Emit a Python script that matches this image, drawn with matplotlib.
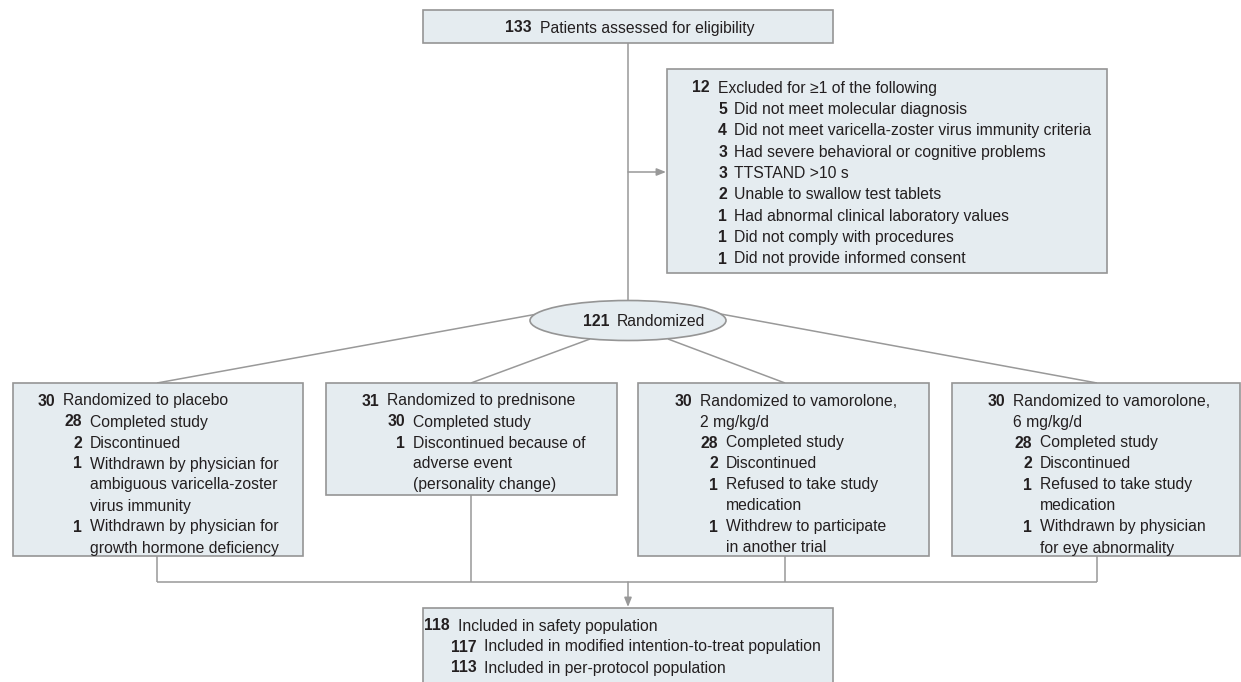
import matplotlib
matplotlib.use("Agg")
import matplotlib.pyplot as plt
from matplotlib.patches import Rectangle, Ellipse
import numpy as np

# ---------------- data ----------------
top_n = "133"
top_label = "Patients assessed for eligibility"

excl_n = "12"
excl_label = "Excluded for \u22651 of the following"
excl_counts = ["5", "4", "3", "3", "2", "1", "1", "1"]
excl_reasons = [
    "Did not meet molecular diagnosis",
    "Did not meet varicella-zoster virus immunity criteria",
    "Had severe behavioral or cognitive problems",
    "TTSTAND >10 s",
    "Unable to swallow test tablets",
    "Had abnormal clinical laboratory values",
    "Did not comply with procedures",
    "Did not provide informed consent",
]

rand_n = "121"
rand_label = "Randomized"

# each arm: list of (number, text, level) ; level 0 = header, 1 = sub item
arm_placebo = [
    ("30", "Randomized to placebo", 0),
    ("28", "Completed study", 1),
    ("2", "Discontinued", 1),
    ("1", "Withdrawn by physician for", 1),
    ("", "ambiguous varicella-zoster", 1),
    ("", "virus immunity", 1),
    ("1", "Withdrawn by physician for", 1),
    ("", "growth hormone deficiency", 1),
]
arm_prednisone = [
    ("31", "Randomized to prednisone", 0),
    ("30", "Completed study", 1),
    ("1", "Discontinued because of", 1),
    ("", "adverse event", 1),
    ("", "(personality change)", 1),
]
arm_vam2 = [
    ("30", "Randomized to vamorolone,", 0),
    ("", "2 mg/kg/d", 0),
    ("28", "Completed study", 1),
    ("2", "Discontinued", 1),
    ("1", "Refused to take study", 1),
    ("", "medication", 1),
    ("1", "Withdrew to participate", 1),
    ("", "in another trial", 1),
]
arm_vam6 = [
    ("30", "Randomized to vamorolone,", 0),
    ("", "6 mg/kg/d", 0),
    ("28", "Completed study", 1),
    ("2", "Discontinued", 1),
    ("1", "Refused to take study", 1),
    ("", "medication", 1),
    ("1", "Withdrawn by physician", 1),
    ("", "for eye abnormality", 1),
]
arms = [arm_placebo, arm_prednisone, arm_vam2, arm_vam6]

final_items = [
    ("118", "Included in safety population", 0),
    ("117", "Included in modified intention-to-treat population", 1),
    ("113", "Included in per-protocol population", 1),
]

# ---------------- style ----------------
FILL = "#e5ecf0"
EDGE = "#959595"
LINE = "#999999"
TXT = "#231f20"
FAM = ["Liberation Sans Narrow", "Liberation Sans", "DejaVu Sans"]
FS = 11.3
LH = 21.0   # line height in px
BASE = 5.5  # baseline offset from line centre (px, downwards)

fig = plt.figure(figsize=(12.41, 6.82), dpi=100)
ax = fig.add_axes([0, 0, 1, 1])
ax.set_xlim(0, 1241)
ax.set_ylim(682, 0)
ax.axis("off")


def box(x0, y0, x1, y1):
    ax.add_patch(Rectangle((x0, y0), x1 - x0, y1 - y0, facecolor=FILL,
                           edgecolor=EDGE, linewidth=1.2, zorder=2))


def line(xs, ys):
    ax.plot(xs, ys, color=LINE, lw=1.1, zorder=1, solid_capstyle="butt")


def arrow(x0, y0, x1, y1):
    ax.annotate("", xy=(x1, y1), xytext=(x0, y0),
                arrowprops=dict(arrowstyle="-|>,head_length=0.55,head_width=0.22",
                                color=LINE, lw=1.1, shrinkA=0, shrinkB=0),
                zorder=3)


def item(num_right, text_left, y, num, text):
    yb = y + BASE
    if num:
        ax.text(num_right, yb, num, ha="right", va="baseline", fontsize=FS,
                fontweight="bold", color=TXT, family=FAM, zorder=4)
    ax.text(text_left, yb, text, ha="left", va="baseline", fontsize=FS,
            color=TXT, family=FAM, zorder=4)


# top box
box(423, 10, 833, 43)
item(532, 540, 27, top_n, top_label)

# vertical trunk and arrow to exclusion box
line([628, 628], [43, 301])
arrow(628, 172, 666, 172)

# exclusion box
box(667, 69, 1107, 273)
yy = np.linspace(87, 258, len(excl_counts) + 1)
item(710, 718, yy[0], excl_n, excl_label)
for i, (c, r) in enumerate(zip(excl_counts, excl_reasons)):
    item(727, 734, yy[i + 1], c, r)

# ellipse
ecx, ecy, ea, eb = 628, 320.5, 98, 20
ax.add_patch(Ellipse((ecx, ecy), 2 * ea, 2 * eb, facecolor=FILL,
                     edgecolor=EDGE, linewidth=1.2, zorder=2))
item(610, 617, 321, rand_n, rand_label)

# arm boxes: (left, right, bottom, num_right_header, num_right_sub, connector x)
arm_geom = [
    (13, 303, 556, 55, 82, 157),
    (326, 617, 495, 379, 405, 471),
    (638, 929, 556, 692, 718, 785),
    (952, 1240, 556, 1005, 1032, 1097),
]
top_y = 383
# connector start points on the ellipse outline
start_pts = [(540, 313.5), (590, 339), (668, 339), (718, 313.5)]

for arm, (l, r, b, nr0, nr1, cx), (sx, sy) in zip(arms, arm_geom, start_pts):
    line([sx, cx], [sy, top_y])
    box(l, top_y, r, b)
    for k, (n, t, lev) in enumerate(arm):
        y = 400 + LH * k
        nr = nr0 if lev == 0 else nr1
        item(nr, nr + 8, y, n, t)
    line([cx, cx], [b, 582])

# horizontal collector
line([157, 1097], [582, 582])
arrow(628, 582, 628, 607)

# final box
box(423, 608, 833, 700)
item(450, 458, 625, final_items[0][0], final_items[0][1])
for k, (n, t, lev) in enumerate(final_items[1:]):
    item(477, 484, 646 + LH * k, n, t)

fig.savefig("out.png", dpi=100)
